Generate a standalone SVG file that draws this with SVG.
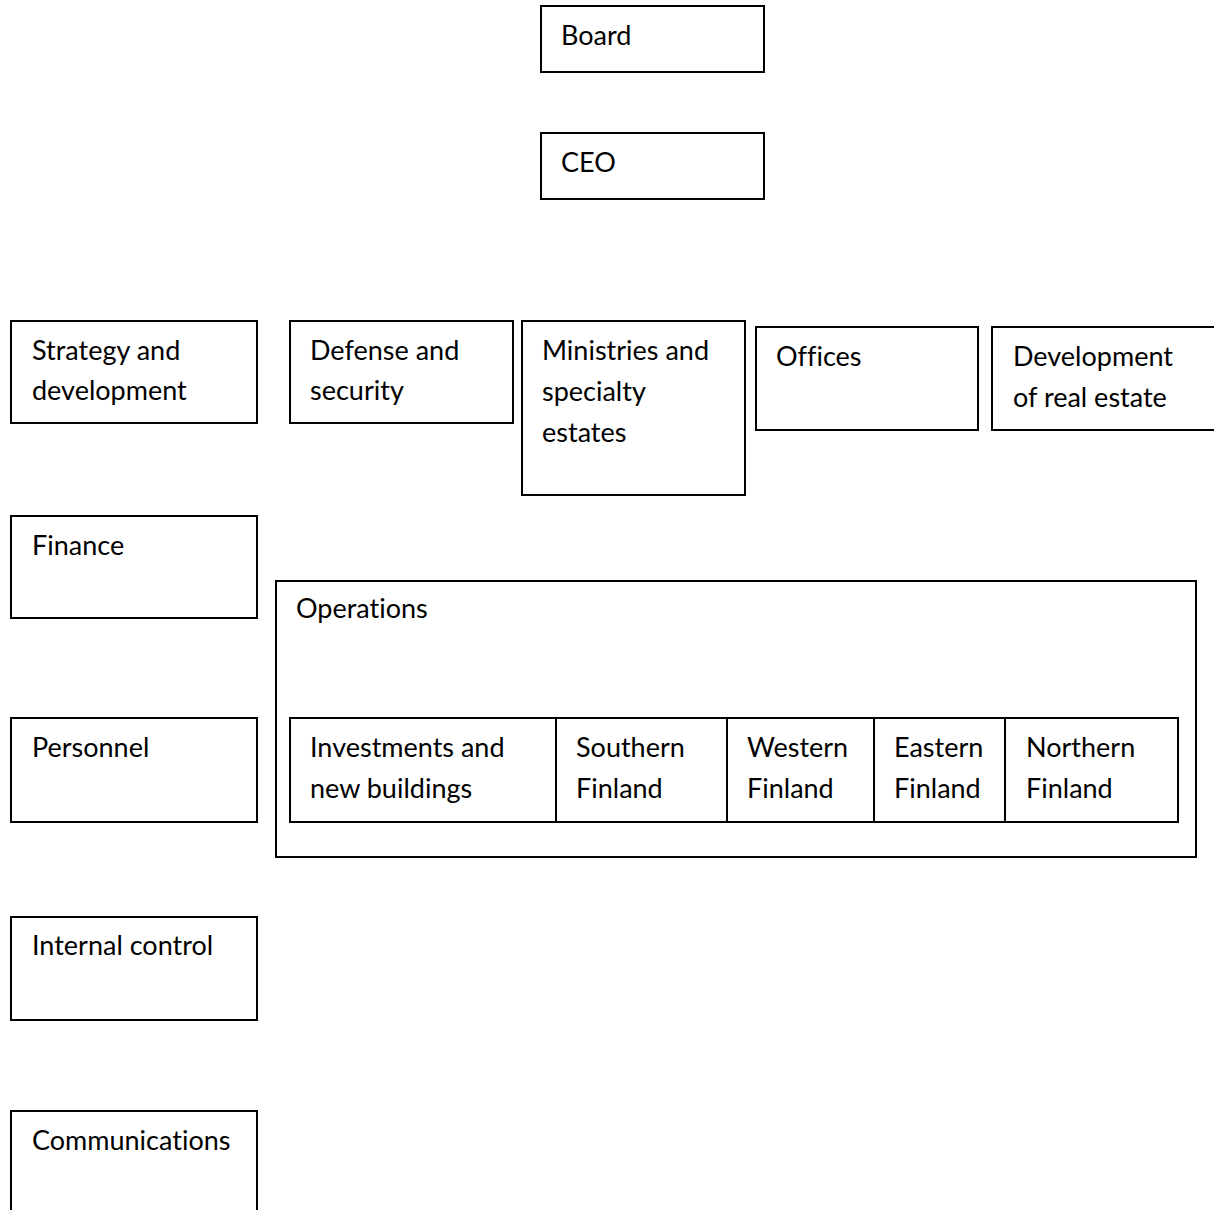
<svg xmlns="http://www.w3.org/2000/svg" width="1214" height="1210" viewBox="0 0 1214 1210">
<style>
rect{fill:#fff;stroke:#000;stroke-width:2}
text{font-family:Lato,"Open Sans",sans-serif;font-size:27px;fill:#000;font-variant-ligatures:none}
</style>
<rect x="0" y="0" width="1214" height="1210" style="stroke:none"/>
<g id="board"><rect x="541" y="6" width="223" height="66"/><text x="561" y="45">Board</text></g>
<g id="ceo"><rect x="541" y="133" width="223" height="66"/><text x="561" y="172">CEO</text></g>
<g id="strategy"><rect x="11" y="321" width="246" height="102"/><text x="32" y="360">Strategy and</text><text x="32" y="400">development</text></g>
<g id="defense"><rect x="290" y="321" width="223" height="102"/><text x="310" y="360">Defense and</text><text x="310" y="400">security</text></g>
<g id="ministries"><rect x="522" y="321" width="223" height="174"/><text x="542" y="360">Ministries and</text><text x="542" y="401">specialty</text><text x="542" y="442">estates</text></g>
<g id="offices"><rect x="756" y="327" width="222" height="103"/><text x="776" y="366">Offices</text></g>
<g id="devrealestate"><rect x="992" y="327" width="224" height="103"/><text x="1013" y="366">Development</text><text x="1013" y="407">of real estate</text></g>
<g id="finance"><rect x="11" y="516" width="246" height="102"/><text x="32" y="555">Finance</text></g>
<g id="operations"><rect x="276" y="581" width="920" height="276"/><text x="296" y="618">Operations</text></g>
<g id="investments"><rect x="290" y="718" width="266" height="104"/><text x="310" y="757">Investments and</text><text x="310" y="798">new buildings</text></g>
<g id="southern"><rect x="556" y="718" width="171" height="104"/><text x="576" y="757">Southern</text><text x="576" y="798">Finland</text></g>
<g id="western"><rect x="727" y="718" width="147" height="104"/><text x="747" y="757">Western</text><text x="747" y="798">Finland</text></g>
<g id="eastern"><rect x="874" y="718" width="131" height="104"/><text x="894" y="757">Eastern</text><text x="894" y="798">Finland</text></g>
<g id="northern"><rect x="1005" y="718" width="173" height="104"/><text x="1026" y="757">Northern</text><text x="1026" y="798">Finland</text></g>
<g id="personnel"><rect x="11" y="718" width="246" height="104"/><text x="32" y="757">Personnel</text></g>
<g id="internal"><rect x="11" y="917" width="246" height="103"/><text x="32" y="955">Internal control</text></g>
<g id="communications"><rect x="11" y="1111" width="246" height="110"/><text x="32" y="1150">Communications</text></g>
<g id="connectors"></g>
</svg>
